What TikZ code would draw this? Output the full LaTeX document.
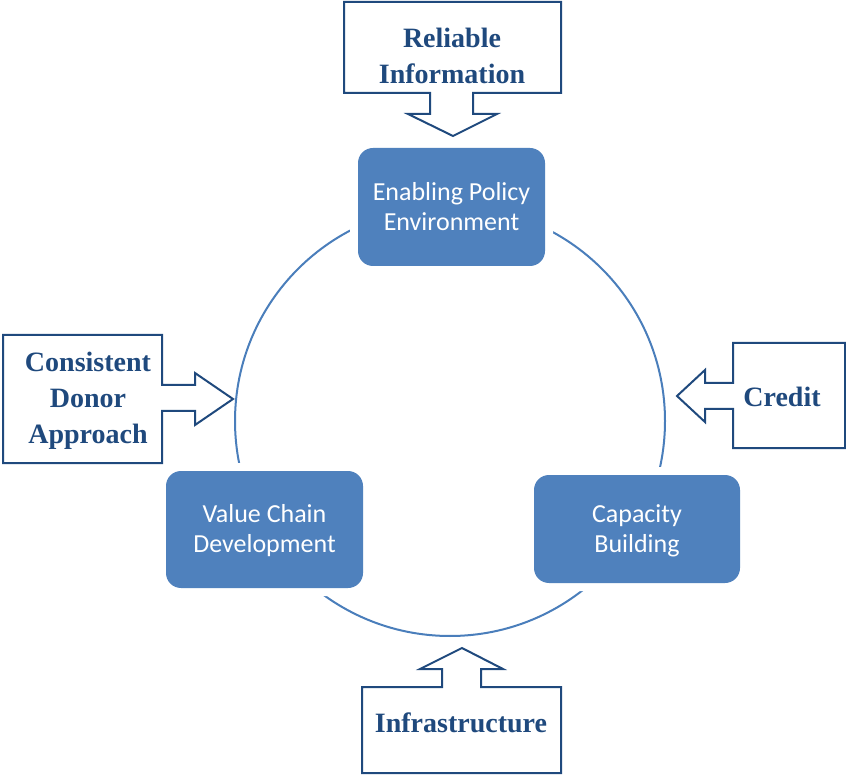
\documentclass[tikz,border=0pt]{standalone}
\usepackage{fontspec}
\setmainfont{Liberation Serif}
\newfontfamily\calib{Carlito}
\definecolor{boxblue}{HTML}{4F81BD}
\definecolor{ringblue}{HTML}{4A7EBB}
\definecolor{darkblue}{HTML}{1F497D}
\tikzset{
  stagebox/.style={rounded corners=15pt, fill=boxblue,
    preaction={draw=white, line width=16pt, rounded corners=15pt}},
  stagetext/.style={text=white, align=center, font=\calib\fontsize{26}{30}\selectfont},
  callout/.style={draw=darkblue, line width=2pt, fill=white, line join=miter},
  callouttext/.style={text=darkblue, align=center, font=\bfseries\fontsize{28}{36}\selectfont}
}
\begin{document}
\begin{tikzpicture}[x=1pt,y=-1pt]
\useasboundingbox (0,0) rectangle (846,775);
% ring
\coordinate (c) at (450,421);
\draw[ringblue, line width=2pt] (c) circle[radius=215pt];
% stage boxes
\path[stagebox] (358,148) rectangle (545,266);
\node[stagetext] (policy) at (451.5,207) {Enabling Policy\\Environment};
\path[stagebox] (166,471) rectangle (363,588);
\node[stagetext] (value) at (264.5,531) {Value Chain\\Development};
\path[stagebox] (534,475) rectangle (740,583);
\node[stagetext] (capacity) at (637,531) {Capacity\\Building};
% callouts
\draw[callout] (344,2) -- (561,2) -- (561,93) -- (473,93) -- (473,114) -- (497,114) -- (453,136) -- (408,114) -- (430,114) -- (430,93) -- (344,93) -- cycle;
\node[callouttext] (info) at (452,56) {Reliable\\Information};
\draw[callout] (3,335) -- (162,335) -- (162,385) -- (195,385) -- (195,373) -- (233,399) -- (195,425) -- (195,411) -- (162,411) -- (162,463) -- (3,463) -- cycle;
\node[callouttext] (donor) at (88,401) {Consistent\\Donor\\Approach};
\draw[callout] (733,343) -- (845,343) -- (845,448) -- (733,448) -- (733,409) -- (705,409) -- (705,422) -- (677,396) -- (705,370) -- (705,383) -- (733,383) -- cycle;
\node[callouttext] (credit) at (782,397) {Credit};
\draw[callout] (362,687) -- (442,687) -- (442,669) -- (420,669) -- (462,648) -- (503,669) -- (481,669) -- (481,687) -- (561,687) -- (561,773) -- (362,773) -- cycle;
\node[callouttext] (infra) at (461,723) {Infrastructure};
\end{tikzpicture}
\end{document}
